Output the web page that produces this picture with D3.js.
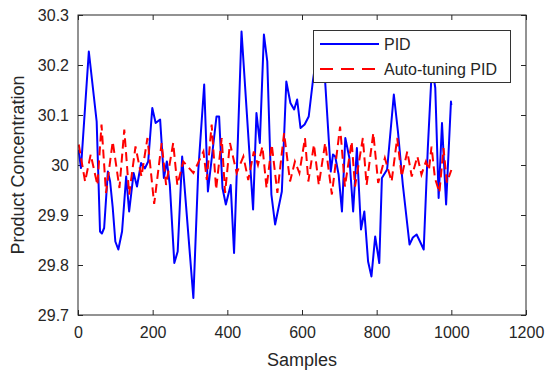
<!DOCTYPE html>
<html>
<head>
<meta charset="utf-8">
<script src="https://cdn.jsdelivr.net/npm/d3@7"></script>
<style>
html,body{margin:0;padding:0;background:#fff;}
svg text{font-family:"Liberation Sans",Arial,sans-serif;fill:#262626;}
</style>
</head>
<body>
<svg id="chart" width="546" height="374"></svg>
<script>
const xTicks = [0, 200, 400, 600, 800, 1000, 1200];
const yTicks = [29.7, 29.8, 29.9, 30.0, 30.1, 30.2, 30.3];
const yTickLabels = ["29.7", "29.8", "29.9", "30", "30.1", "30.2", "30.3"];
const seriesNames = ["PID", "Auto-tuning PID"];

const pidSamples = [0, 2, 8, 29, 50, 59, 64, 70, 80, 86, 93, 100, 108, 118, 129, 137, 149, 158, 169, 179, 188, 199, 208, 220, 230, 238, 246, 258, 267, 279, 309, 322, 338, 348, 371, 378, 387, 396, 409, 418, 438, 469, 478, 487, 498, 507, 518, 528, 546, 558, 569, 579, 587, 596, 607, 618, 629, 645, 662, 677, 683, 689, 698, 707, 716, 727, 737, 747, 758, 767, 777, 786, 796, 807, 814, 828, 846, 857, 870, 888, 897, 907, 916, 926, 937, 946, 950, 957, 966, 975, 986, 999, 1000];
const pidValues = [30.03, 30.027, 29.994, 30.227, 30.087, 29.867, 29.863, 29.874, 29.987, 29.967, 29.915, 29.847, 29.831, 29.867, 29.977, 29.907, 29.984, 29.957, 30.004, 29.993, 30.007, 30.114, 30.084, 30.091, 29.974, 30.007, 29.96, 29.804, 29.827, 30.017, 29.734, 29.987, 30.161, 29.947, 30.097, 30.097, 29.954, 29.921, 29.96, 29.824, 30.267, 29.911, 30.104, 30.044, 30.261, 30.207, 29.941, 29.881, 29.947, 30.167, 30.124, 30.111, 30.131, 30.074, 30.081, 30.097, 30.167, 30.25, 30.167, 29.987, 30.021, 30.017, 29.981, 29.907, 30.054, 30.014, 29.907, 30.034, 29.871, 29.907, 29.807, 29.777, 29.857, 29.804, 29.974, 29.991, 30.141, 30.067, 29.961, 29.841, 29.855, 29.861, 29.847, 29.831, 30.034, 30.167, 30.19, 30.154, 29.934, 30.084, 29.921, 30.127, 30.12];

const atSamples = [2, 19, 34, 52, 63, 75, 93, 111, 124, 137, 154, 170, 186, 204, 224, 236, 255, 266, 282, 309, 336, 345, 358, 370, 385, 394, 407, 425, 443, 456, 471, 482, 494, 505, 519, 534, 552, 568, 581, 593, 608, 617, 632, 645, 662, 680, 702, 715, 733, 742, 763, 773, 791, 804, 822, 840, 855, 867, 882, 894, 909, 920, 932, 940, 947, 956, 968, 979, 988, 1000];
const atValues = [30.041, 29.967, 30.021, 29.96, 30.081, 29.944, 30.047, 29.954, 30.071, 29.941, 30.037, 29.977, 30.054, 29.922, 30.044, 29.96, 30.044, 29.96, 30.007, 29.984, 30.027, 29.97, 30.081, 29.951, 30.054, 29.944, 30.044, 29.984, 30.017, 29.97, 30.027, 30.0, 30.037, 29.954, 30.041, 29.944, 30.064, 29.967, 30.007, 29.984, 30.054, 29.967, 30.041, 29.96, 30.044, 29.941, 30.077, 29.957, 30.047, 29.957, 30.054, 29.96, 30.064, 29.964, 30.014, 29.967, 30.054, 29.977, 30.027, 29.977, 30.017, 29.981, 30.007, 29.99, 30.037, 29.974, 29.945, 30.034, 29.965, 29.99];

const W = 546, H = 374;
const m = {left: 78, right: 20, top: 15, bottom: 59};
const svg = d3.select("#chart");
const x = d3.scaleLinear().domain([0, 1200]).range([m.left, W - m.right]);
const y = d3.scaleLinear().domain([29.7, 30.3]).range([H - m.bottom, m.top]);
const axisColor = "#262626";

// axes
const gB = svg.append("g").attr("transform", `translate(0,${y(29.7)})`)
  .call(d3.axisBottom(x).tickValues(xTicks).tickFormat(d3.format("d")).tickSizeInner(-5).tickSizeOuter(0).tickPadding(12));
const gT = svg.append("g").attr("transform", `translate(0,${y(30.3)})`)
  .call(d3.axisTop(x).tickValues(xTicks).tickFormat("").tickSizeInner(-5).tickSizeOuter(0));
const gL = svg.append("g").attr("transform", `translate(${x(0)},0)`)
  .call(d3.axisLeft(y).tickValues(yTicks).tickFormat((d, i) => yTickLabels[i]).tickSizeInner(-5).tickSizeOuter(0).tickPadding(9));
const gR = svg.append("g").attr("transform", `translate(${x(1200)},0)`)
  .call(d3.axisRight(y).tickValues(yTicks).tickFormat("").tickSizeInner(-5).tickSizeOuter(0));
[gB, gT, gL, gR].forEach(g => {
  g.select(".domain").remove();
  g.selectAll(".tick line").attr("stroke", axisColor);
  g.selectAll(".tick text").attr("font-size", 16).attr("fill", axisColor)
    .style("font-family", '"Liberation Sans",Arial,sans-serif');
});

// lines
const clipId = "clip";
svg.append("clipPath").attr("id", clipId).append("rect")
  .attr("x", x(0)).attr("y", y(30.3)).attr("width", x(1200) - x(0)).attr("height", y(29.7) - y(30.3));

const pidData = pidSamples.map((s, i) => [s, pidValues[i]]);
const atData = atSamples.map((s, i) => [s, atValues[i]]);
const line = d3.line().x(d => x(d[0])).y(d => y(d[1]));

svg.append("path").datum(pidData).attr("d", line)
  .attr("fill", "none").attr("stroke", "#0000ff").attr("stroke-width", 2)
  .attr("stroke-linejoin", "round").attr("clip-path", `url(#${clipId})`);
svg.append("path").datum(atData).attr("d", line)
  .attr("fill", "none").attr("stroke", "#ff0000").attr("stroke-width", 2)
  .attr("stroke-dasharray", "9,5").attr("clip-path", `url(#${clipId})`);

// frame
svg.append("rect").attr("x", x(0)).attr("y", y(30.3))
  .attr("width", x(1200) - x(0)).attr("height", y(29.7) - y(30.3))
  .attr("fill", "none").attr("stroke", axisColor).attr("stroke-width", 1);

// axis labels
svg.append("text").attr("x", (x(0) + x(1200)) / 2).attr("y", 366)
  .attr("text-anchor", "middle").attr("font-size", 18).text("Samples");
svg.append("text").attr("transform", `translate(24,${(y(29.7) + y(30.3)) / 2}) rotate(-90)`)
  .attr("text-anchor", "middle").attr("font-size", 18).text("Product Concentration");

// legend
const lg = svg.append("g");
lg.append("rect").attr("x", 313.5).attr("y", 30.5).attr("width", 197).attr("height", 52)
  .attr("fill", "#fff").attr("stroke", "#333").attr("stroke-width", 1);
const rows = [{name: seriesNames[0], color: "#0000ff", dash: null, yy: 44},
              {name: seriesNames[1], color: "#ff0000", dash: "13,8", yy: 69}];
rows.forEach(r => {
  lg.append("line").attr("x1", 320).attr("x2", 379).attr("y1", r.yy).attr("y2", r.yy)
    .attr("stroke", r.color).attr("stroke-width", 2).attr("stroke-dasharray", r.dash);
  lg.append("text").attr("x", 384).attr("y", r.yy).attr("dy", "0.35em")
    .attr("font-size", 16).text(r.name);
});
</script>
</body>
</html>
